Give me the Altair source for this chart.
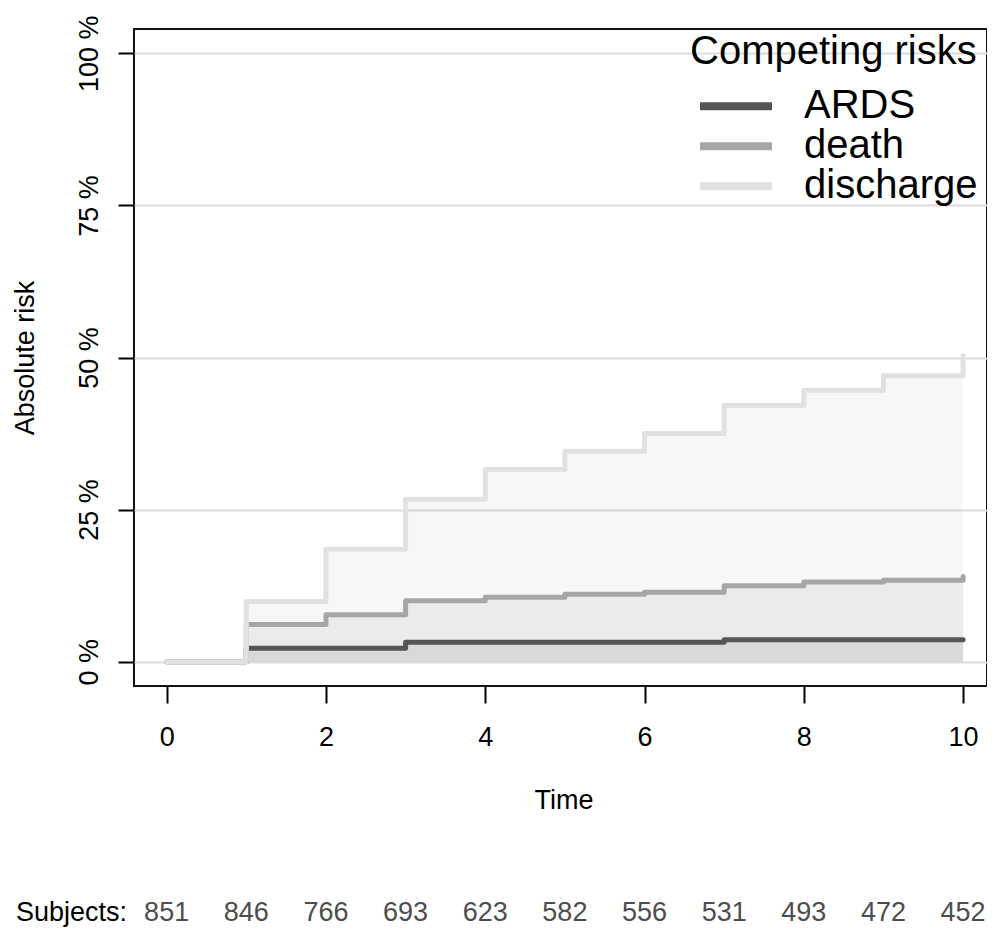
import altair as alt
import pandas as pd

# ---- data ----
times = [0, 1, 2, 3, 4, 5, 6, 7, 8, 9, 10]
# stacked absolute risk (%), as drawn
ards_top = [0, 2.2, 2.2, 3.2, 3.2, 3.2, 3.2, 3.6, 3.6, 3.6, 3.6]
death_top = [0, 6.1, 7.7, 10.0, 10.6, 11.1, 11.4, 12.5, 13.1, 13.4, 14.0]
discharge_top = [0, 9.9, 18.5, 26.7, 31.6, 34.6, 37.5, 42.1, 44.6, 47.0, 50.3]
subjects = [851, 846, 766, 693, 623, 582, 556, 531, 493, 472, 452]
risks = ["ARDS", "death", "discharge"]
line_colors = ["#555555", "#a6a6a6", "#e1e1e1"]
x_ticks = [0, 2, 4, 6, 8, 10]
y_ticks = [0, 25, 50, 75, 100]

FONT = "Liberation Sans"
W, H = 853, 657

wide = pd.DataFrame({
    "time": times,
    "base": [0] * len(times),
    "ARDS": ards_top,
    "death": death_top,
    "discharge": discharge_top,
})
long = pd.DataFrame({
    "time": times * 3,
    "risk": [r for r in risks for _ in times],
    "value": ards_top + death_top + discharge_top,
})
subj = pd.DataFrame({"time": times, "n": subjects})
lab = pd.DataFrame({"label": ["Subjects:"]})

x_scale = alt.Scale(domain=[-0.41, 10.30], nice=False, zero=False)
y_scale = alt.Scale(domain=[-4, 104], nice=False, zero=False)

x_axis = alt.Axis(
    values=x_ticks, title="Time", grid=False, domain=False,
    tickSize=17, tickWidth=2, tickColor="black",
    labelFontSize=27, labelFont=FONT, labelColor="black", labelPadding=21,
    labelFlush=False,
    titleFontSize=27, titleFont=FONT, titleFontWeight="normal", titleColor="black",
    titleX=(563.5 - 134), titleY=122, titleBaseline="alphabetic", titleAlign="center",
)
y_axis = alt.Axis(
    values=y_ticks, title="Absolute risk", labelExpr="datum.value + ' %'",
    grid=True, gridColor="#dcdcdc", gridWidth=1.8, domain=False,
    tickSize=16, tickWidth=2, tickColor="black",
    labelAngle=270, labelAlign="center", labelBaseline="alphabetic",
    labelFontSize=27, labelFont=FONT, labelColor="black", labelPadding=21,
    titleAngle=270, titleFontSize=27, titleFont=FONT, titleFontWeight="normal",
    titleColor="black", titleX=-101, titleY=H / 2, titleBaseline="alphabetic",
    titleAlign="center",
)

X = alt.X("time:Q", scale=x_scale, axis=x_axis)

base = alt.Chart(wide)

area_ards = base.mark_area(interpolate="step-after", fill="black", fillOpacity=0.15).encode(
    x=X, y=alt.Y("base:Q", scale=y_scale, axis=y_axis), y2="ARDS:Q")
area_death = base.mark_area(interpolate="step-after", fill="black", fillOpacity=0.08).encode(
    x=X, y=alt.Y("ARDS:Q", scale=y_scale, axis=y_axis), y2="death:Q")
area_dis = base.mark_area(interpolate="step-after", fill="black", fillOpacity=0.03).encode(
    x=X, y=alt.Y("discharge:Q", scale=y_scale, axis=y_axis), y2="death:Q")

lines = alt.Chart(long).mark_line(
    interpolate="step-after", strokeWidth=5, strokeCap="round", strokeJoin="round"
).encode(
    x=X,
    y=alt.Y("value:Q", scale=y_scale, axis=y_axis),
    color=alt.Color(
        "risk:N",
        scale=alt.Scale(domain=risks, range=line_colors),
        legend=alt.Legend(
            orient="none", legendX=556, legendY=3, padding=0,
            title="Competing risks", titleFontSize=40, titleFont=FONT,
            titleFontWeight="normal", titleColor="black", titlePadding=15,
            titleLimit=500,
            labelFontSize=40, labelFont=FONT, labelColor="black", labelLimit=500,
            symbolType="stroke", symbolSize=5184, symbolStrokeWidth=8,
            symbolOffset=6, labelOffset=28, rowPadding=-4, clipHeight=38.5,
        ),
    ),
    order=alt.Order("time:Q"),
)

subj_text = alt.Chart(subj).mark_text(
    fontSize=27, font=FONT, color="#4d4d4d", align="center", baseline="alphabetic"
).encode(
    x=X,
    y=alt.value(892),
    text="n:Q",
)
subj_label = alt.Chart(lab).mark_text(
    fontSize=27, font=FONT, color="black", align="right", baseline="alphabetic"
).encode(
    x=alt.value(-7),
    y=alt.value(892),
    text="label:N",
)

chart = alt.layer(area_ards, area_death, area_dis, lines, subj_text, subj_label).properties(
    width=W, height=H,
    background="white",
    autosize=alt.AutoSizeParams(type="none"),
    padding={"left": 126, "top": 21, "right": 0, "bottom": 242},
).configure_view(stroke="#111111", strokeWidth=2)

chart.save("out.html", embed_options={"renderer": "svg", "actions": False})
